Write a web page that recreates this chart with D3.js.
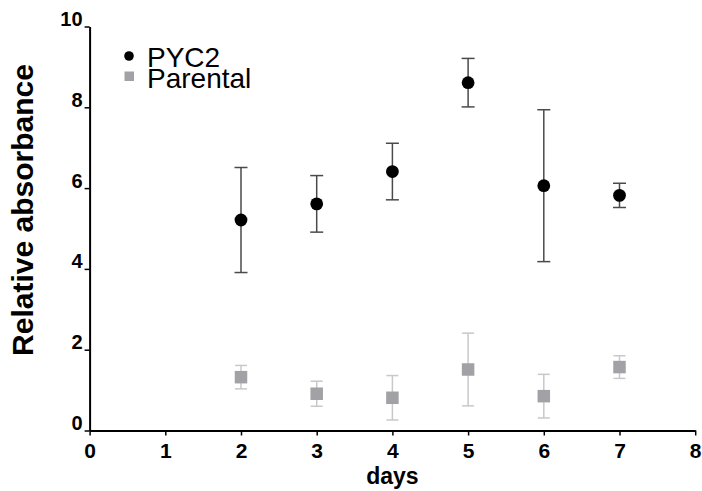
<!DOCTYPE html>
<html>
<head>
<meta charset="utf-8">
<script src="https://cdn.jsdelivr.net/npm/d3@7"></script>
<style>
  html, body { margin: 0; padding: 0; background: #fff; }
  svg { display: block; font-family: Arial, "Liberation Sans", sans-serif; }
</style>
</head>
<body>
<svg id="chart" width="702" height="491"></svg>
<script>
// Days of measurement
const days = [2, 3, 4, 5, 6, 7];

// PYC2 series: mean and error (±)
const pyc2Mean = [5.21, 5.61, 6.41, 8.61, 6.06, 5.82];
const pyc2Err  = [1.30, 0.70, 0.70, 0.60, 1.88, 0.30];

// Parental series: mean and error (±)
const parentalMean = [1.32, 0.91, 0.81, 1.51, 0.85, 1.57];
const parentalErr  = [0.29, 0.31, 0.55, 0.90, 0.54, 0.28];

// Axis ticks
const xTicks = [0, 1, 2, 3, 4, 5, 6, 7, 8];
const yTicks = [0, 2, 4, 6, 8, 10];

const svg = d3.select("#chart");

const x = d3.scaleLinear().domain([0, 8]).range([89.6, 695.2]);
const y = d3.scaleLinear().domain([0, 10]).range([430.5, 26.5]);

// Y axis
const yAxis = svg.append("g")
  .attr("transform", `translate(${x(0)},0)`)
  .call(d3.axisLeft(y).tickValues(yTicks).tickSize(5).tickSizeOuter(0).tickFormat(d3.format("d")));
yAxis.select(".domain").attr("stroke", "#000").attr("stroke-width", 2);
yAxis.selectAll(".tick line").attr("stroke", "#000").attr("stroke-width", 1.5);
yAxis.selectAll(".tick text")
  .attr("x", -7).attr("dy", "-1")
  .attr("font-size", 20).attr("font-weight", "bold")
  .attr("font-family", "Arial, 'Liberation Sans', sans-serif")
  .attr("fill", "#000");

// X axis
const xAxis = svg.append("g")
  .attr("transform", `translate(0,${y(0)})`)
  .call(d3.axisBottom(x).tickValues(xTicks).tickSize(5).tickSizeOuter(0).tickFormat(d3.format("d")));
xAxis.select(".domain").attr("stroke", "#000").attr("stroke-width", 2);
xAxis.selectAll(".tick line").attr("stroke", "#000").attr("stroke-width", 1.5);
xAxis.selectAll(".tick text")
  .attr("y", 27).attr("dy", "0")
  .attr("font-size", 21).attr("font-weight", "bold")
  .attr("font-family", "Arial, 'Liberation Sans', sans-serif")
  .attr("fill", "#000");

// Axis titles
svg.append("text")
  .attr("transform", `translate(33,210) rotate(-90)`)
  .attr("text-anchor", "middle")
  .attr("font-size", 30).attr("font-weight", "bold")
  .attr("fill", "#000")
  .text("Relative absorbance");

svg.append("text")
  .attr("x", x(4)).attr("y", 484)
  .attr("text-anchor", "middle")
  .attr("font-size", 23).attr("font-weight", "bold")
  .attr("fill", "#000")
  .text("days");

// Error bars with caps
function errorBars(means, errs, color, capHalf) {
  const g = svg.append("g").attr("stroke", color).attr("stroke-width", 1.5).attr("fill", "none");
  days.forEach((d, i) => {
    const cx = x(d), hi = y(means[i] + errs[i]), lo = y(means[i] - errs[i]);
    g.append("line").attr("x1", cx).attr("x2", cx).attr("y1", hi).attr("y2", lo);
    g.append("line").attr("x1", cx - capHalf).attr("x2", cx + capHalf).attr("y1", hi).attr("y2", hi);
    g.append("line").attr("x1", cx - capHalf).attr("x2", cx + capHalf).attr("y1", lo).attr("y2", lo);
  });
}

errorBars(parentalMean, parentalErr, "#c8c8c8", 6);
errorBars(pyc2Mean, pyc2Err, "#4a4a4a", 6.5);

// Parental markers (squares)
const sq = 12.5;
svg.append("g").selectAll("rect")
  .data(days.map((d, i) => ({ d, v: parentalMean[i] })))
  .join("rect")
  .attr("x", p => x(p.d) - sq / 2)
  .attr("y", p => y(p.v) - sq / 2)
  .attr("width", sq).attr("height", sq)
  .attr("fill", "#a2a2a6");

// PYC2 markers (circles)
svg.append("g").selectAll("circle")
  .data(days.map((d, i) => ({ d, v: pyc2Mean[i] })))
  .join("circle")
  .attr("cx", p => x(p.d))
  .attr("cy", p => y(p.v))
  .attr("r", 6.4)
  .attr("fill", "#000");

// Legend
const legend = svg.append("g");
legend.append("circle").attr("cx", 129).attr("cy", 56).attr("r", 4.8).attr("fill", "#000");
legend.append("text").attr("x", 147).attr("y", 66.5)
  .attr("font-size", 28).attr("fill", "#000").text("PYC2");
legend.append("rect").attr("x", 124.5).attr("y", 71.5).attr("width", 9.5).attr("height", 9.5).attr("fill", "#a2a2a6");
legend.append("text").attr("x", 147).attr("y", 88)
  .attr("font-size", 28).attr("fill", "#000").text("Parental");
</script>
</body>
</html>
